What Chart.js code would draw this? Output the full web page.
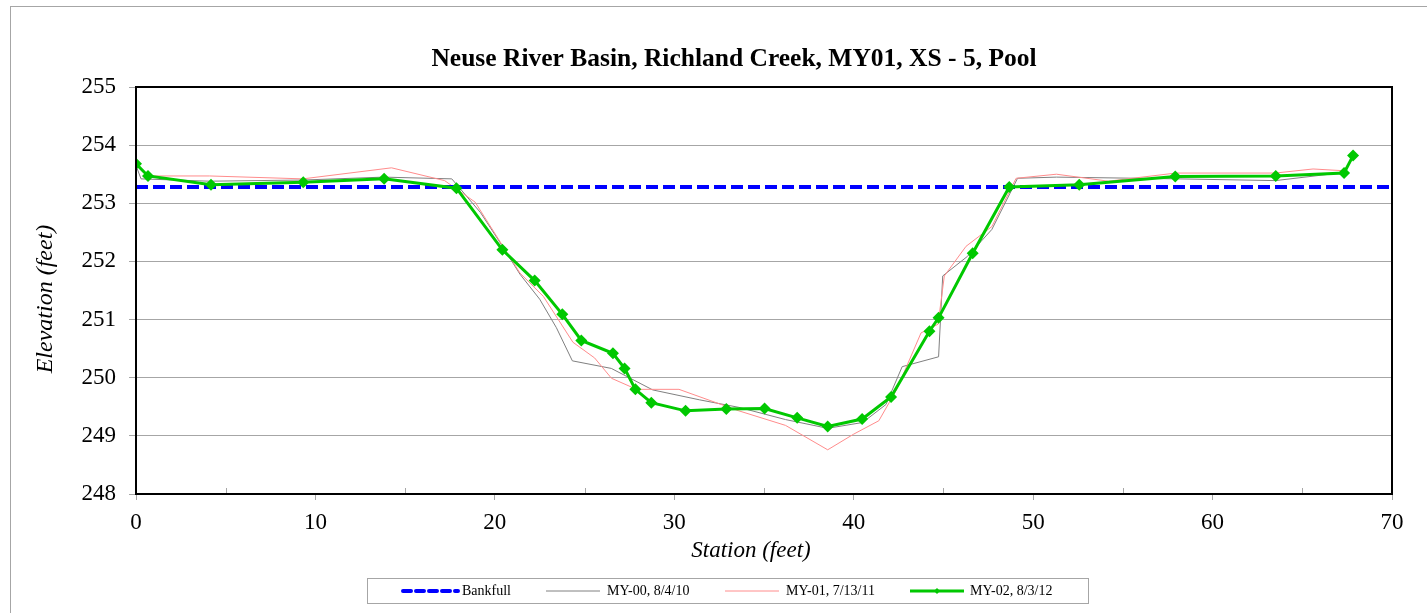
<!DOCTYPE html>
<html>
<head>
<meta charset="utf-8">
<script src="https://cdn.jsdelivr.net/npm/chart.js@4/dist/chart.umd.min.js"></script>
<style>
  html, body { margin: 0; padding: 0; background: #ffffff; }
  #wrap { position: relative; width: 1427px; height: 613px; }
  canvas { display: block; }
</style>
</head>
<body>
<div id="wrap"><canvas id="c" width="1427" height="613"></canvas></div>
<script>
// ---------- data ----------
const chartTitle = "Neuse River Basin, Richland Creek, MY01, XS - 5, Pool";
const xAxisTitle = "Station (feet)";
const yAxisTitle = "Elevation (feet)";
const seriesNames = ["Bankfull", "MY-00, 8/4/10", "MY-01, 7/13/11", "MY-02, 8/3/12"];

const bankfullStation = [0, 70];
const bankfullElev = [253.28, 253.28];

const my00Station = [0, 0.28, 4.1, 9.3, 13.8, 17.6, 19.2, 20.3, 21.4, 22.5, 23.43, 24.32, 26.49, 28.8, 31.4, 33.6, 36.2, 38.55, 40.5, 41.8, 42.7, 44.73, 44.96, 46.35, 47.7, 49.13, 51.3, 58.1, 63.5, 67.33, 67.83];
const my00Elev = [253.65, 253.42, 253.38, 253.40, 253.45, 253.42, 252.84, 252.32, 251.78, 251.35, 250.86, 250.29, 250.16, 249.79, 249.62, 249.49, 249.28, 249.13, 249.23, 249.54, 250.19, 250.36, 251.75, 252.09, 252.55, 253.43, 253.45, 253.42, 253.39, 253.53, 253.78];

const my01Station = [0, 0.78, 4.1, 9.3, 14.24, 17.2, 18.9, 20.27, 21.4, 22.7, 24.35, 25.56, 26.5, 27.9, 30.26, 33.6, 36.2, 38.55, 40.0, 41.4, 42.4, 43.75, 44.7, 45.05, 46.26, 47.7, 49.05, 51.3, 54.2, 57.95, 63.5, 65.6, 67.3, 67.83];
const my01Elev = [253.65, 253.47, 253.47, 253.42, 253.61, 253.39, 253.02, 252.35, 251.80, 251.40, 250.61, 250.34, 249.99, 249.80, 249.80, 249.43, 249.18, 248.76, 249.03, 249.26, 249.80, 250.77, 250.92, 251.75, 252.26, 252.60, 253.43, 253.50, 253.38, 253.52, 253.52, 253.59, 253.56, 253.78];

const my02Station = [0, 0.67, 4.18, 9.32, 13.83, 17.86, 20.42, 22.22, 23.76, 24.82, 26.58, 27.23, 27.83, 28.72, 30.63, 32.90, 35.03, 36.85, 38.55, 40.47, 42.08, 44.22, 44.73, 46.63, 48.67, 52.57, 57.92, 63.52, 67.33, 67.83];
const my02Elev = [253.68, 253.47, 253.32, 253.36, 253.42, 253.26, 252.20, 251.67, 251.09, 250.64, 250.42, 250.16, 249.80, 249.57, 249.43, 249.46, 249.47, 249.31, 249.16, 249.29, 249.67, 250.80, 251.03, 252.14, 253.28, 253.32, 253.46, 253.47, 253.52, 253.82];

const xTicks = [0, 10, 20, 30, 40, 50, 60, 70];
const xMinorTicks = [5, 15, 25, 35, 45, 55, 65];
const yTicks = [248, 249, 250, 251, 252, 253, 254, 255];

// ---------- helpers ----------
const pts = (xs, ys) => xs.map((x, i) => ({ x: x, y: ys[i] }));
const SERIF = "'Liberation Serif', 'Times New Roman', serif";

const colors = {
  bankfull: '#0000ff',
  my00: '#808080',
  my01: '#ff8c8c',
  my02: '#00c800'
};

// outer frame + plot frame + minor ticks
const framePlugin = {
  id: 'frames',
  beforeDraw(chart) {
    const ctx = chart.ctx;
    ctx.save();
    ctx.fillStyle = '#ffffff';
    ctx.fillRect(0, 0, chart.width, chart.height);
    ctx.strokeStyle = '#a6a6a6';
    ctx.lineWidth = 1;
    ctx.strokeRect(10.5, 6.5, chart.width + 20, chart.height + 20);
    ctx.restore();
  },
  afterDatasetsDraw(chart) {
    const a = chart.chartArea;
    const ctx = chart.ctx;
    const xs = chart.scales.x;
    ctx.save();
    ctx.strokeStyle = '#a6a6a6';
    ctx.lineWidth = 1;
    xMinorTicks.forEach(v => {
      const px = Math.round(xs.getPixelForValue(v)) + 0.5;
      ctx.beginPath();
      ctx.moveTo(px, a.bottom);
      ctx.lineTo(px, a.bottom - 6);
      ctx.stroke();
    });
    ctx.strokeStyle = '#000000';
    ctx.lineWidth = 2;
    ctx.strokeRect(a.left, a.top, a.right - a.left, a.bottom - a.top);
    ctx.restore();
  }
};

// chart title and axis titles
const titlesPlugin = {
  id: 'titles',
  afterDraw(chart) {
    const ctx = chart.ctx;
    ctx.save();
    ctx.fillStyle = '#000000';
    ctx.textAlign = 'center';
    ctx.textBaseline = 'middle';
    ctx.font = 'bold 25.5px ' + SERIF;
    ctx.fillText(chartTitle, 734, 59);
    ctx.font = 'italic 23px ' + SERIF;
    ctx.fillText(xAxisTitle, 751, 551);
    ctx.translate(46, 299);
    ctx.rotate(-Math.PI / 2);
    ctx.font = 'italic 24px ' + SERIF;
    ctx.fillText(yAxisTitle, 0, 0);
    ctx.restore();
  }
};

// custom legend (box with line samples)
const legendPlugin = {
  id: 'boxLegend',
  afterDraw(chart) {
    const ctx = chart.ctx;
    const box = { l: 367, t: 578, r: 1088, b: 603 };
    const cy = (box.t + box.b) / 2 + 0.5;
    ctx.save();
    ctx.strokeStyle = '#a6a6a6';
    ctx.lineWidth = 1;
    ctx.strokeRect(box.l + 0.5, box.t + 0.5, box.r - box.l, box.b - box.t);
    const items = [
      { s: 401, e: 458, tx: 462 },
      { s: 546, e: 600, tx: 607 },
      { s: 725, e: 779, tx: 786 },
      { s: 910, e: 964, tx: 970 }
    ];
    ctx.font = '14px ' + SERIF;
    ctx.textBaseline = 'middle';
    ctx.fillStyle = '#000000';
    chart.data.datasets.forEach((ds, i) => {
      const it = items[i];
      ctx.save();
      ctx.strokeStyle = ds.borderColor;
      ctx.lineWidth = ds.borderWidth;
      ctx.setLineDash(ds.borderDash ? [8, 5] : []);
      ctx.lineCap = ds.borderDash ? 'round' : 'butt';
      ctx.beginPath();
      ctx.moveTo(it.s + (ds.borderDash ? 2 : 0), cy);
      ctx.lineTo(it.e, cy);
      ctx.stroke();
      ctx.restore();
      if (ds.pointRadius > 0) {
        ctx.save();
        ctx.fillStyle = ds.borderColor;
        const mx = (it.s + it.e) / 2, r = 3;
        ctx.beginPath();
        ctx.moveTo(mx, cy - r); ctx.lineTo(mx + r, cy); ctx.lineTo(mx, cy + r); ctx.lineTo(mx - r, cy);
        ctx.closePath();
        ctx.fill();
        ctx.restore();
      }
      ctx.fillText(ds.label, it.tx, cy);
    });
    ctx.restore();
  }
};

const ctx = document.getElementById('c').getContext('2d');
new Chart(ctx, {
  type: 'scatter',
  data: {
    datasets: [
      {
        label: seriesNames[0],
        data: pts(bankfullStation, bankfullElev),
        showLine: true,
        borderColor: colors.bankfull,
        backgroundColor: colors.bankfull,
        borderWidth: 4,
        borderDash: [12, 5],
        pointRadius: 0,
        order: 1
      },
      {
        label: seriesNames[1],
        data: pts(my00Station, my00Elev),
        showLine: true,
        borderColor: colors.my00,
        backgroundColor: colors.my00,
        borderWidth: 1,
        pointRadius: 0,
        order: 3
      },
      {
        label: seriesNames[2],
        data: pts(my01Station, my01Elev),
        showLine: true,
        borderColor: colors.my01,
        backgroundColor: colors.my01,
        borderWidth: 1,
        pointRadius: 0,
        order: 2
      },
      {
        label: seriesNames[3],
        data: pts(my02Station, my02Elev),
        showLine: true,
        borderColor: colors.my02,
        backgroundColor: colors.my02,
        borderWidth: 3,
        pointStyle: 'rectRot',
        pointRadius: 6,
        pointBorderWidth: 0,
        order: 0
      }
    ]
  },
  options: {
    responsive: false,
    animation: false,
    devicePixelRatio: 1,
    layout: { padding: { left: 0, right: 35, top: 87, bottom: 0 } },
    plugins: {
      legend: { display: false },
      tooltip: { enabled: false },
      title: { display: false }
    },
    scales: {
      x: {
        type: 'linear',
        min: 0,
        max: 70,
        afterFit(scale) { scale.height = 119; },
        afterBuildTicks(scale) { scale.ticks = xTicks.map(v => ({ value: v })); },
        grid: {
          drawOnChartArea: false,
          drawTicks: true,
          tickLength: 6,
          color: '#a6a6a6'
        },
        border: { display: false },
        ticks: {
          color: '#000000',
          font: { family: SERIF, size: 23 },
          padding: 9,
          maxRotation: 0
        },
        title: { display: false }
      },
      y: {
        type: 'linear',
        min: 248,
        max: 255,
        afterFit(scale) { scale.width = 136; },
        afterBuildTicks(scale) { scale.ticks = yTicks.map(v => ({ value: v })); },
        grid: {
          color: '#a6a6a6',
          lineWidth: 1,
          drawTicks: true,
          tickLength: 7
        },
        border: { display: false },
        ticks: {
          color: '#000000',
          font: { family: SERIF, size: 23 },
          padding: 13
        },
        title: { display: false }
      }
    }
  },
  plugins: [framePlugin, titlesPlugin, legendPlugin]
});
</script>
</body>
</html>
